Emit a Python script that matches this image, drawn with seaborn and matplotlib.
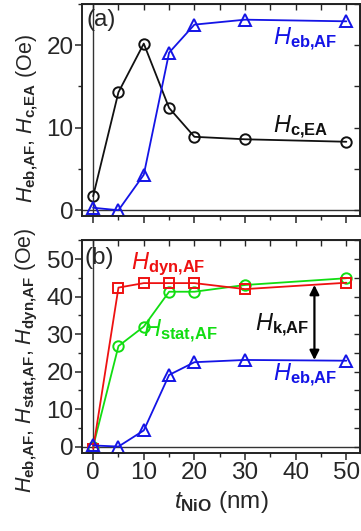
import matplotlib
matplotlib.use("Agg")
import matplotlib.pyplot as plt
from matplotlib.ticker import MultipleLocator
import seaborn as sns
import pandas as pd

# NiO thickness (nm)
t_nio = [0, 5, 10, 15, 20, 30, 50]

# Fields (Oe)
h_eb_af = [0.3, 0.0, 4.3, 19.1, 22.5, 23.1, 22.9]
h_c_ea = [1.7, 14.3, 20.2, 12.4, 8.9, 8.6, 8.3]
h_dyn_af = [-0.6, 42.4, 43.6, 43.6, 43.6, 42.0, 43.7]
h_stat_af = [0.0, 26.8, 32.0, 41.3, 41.3, 43.1, 44.9]

x_ticks = [0, 10, 20, 30, 40, 50]

sns.set_style("ticks")
plt.rcParams["font.family"] = ["Liberation Sans", "DejaVu Sans"]
plt.rcParams["mathtext.fontset"] = "custom"
plt.rcParams["mathtext.rm"] = "Liberation Sans"
plt.rcParams["mathtext.it"] = "Liberation Sans:italic"
plt.rcParams["mathtext.bf"] = "Liberation Sans:bold"

FS = 17.5      # tick labels, panel tags, x label
FS_TXT = 17    # curve labels
FS_Y = 15.5    # y axis labels
BLUE, BLACK, RED, GREEN = "#1414e6", "#111111", "#ee1111", "#11dd11"


def sym(sub):
    """Italic H with a bold upright subscript."""
    return r"$H_{\mathbf{" + sub.replace(",", "{,}") + "}}$"


df = pd.DataFrame({"t": t_nio, "eb": h_eb_af, "c": h_c_ea,
                   "dyn": h_dyn_af, "stat": h_stat_af})

fig = plt.figure(figsize=(3.61, 5.31), dpi=100)
W, H = 361, 531
ax_a = fig.add_axes([82 / W, 1 - 216 / H, 278 / W, 212 / H])
ax_b = fig.add_axes([82 / W, 1 - 453.3 / H, 278 / W, 213.3 / H])


def series(ax, col, color, marker, ms):
    sns.lineplot(data=df, x="t", y=col, ax=ax, color=color, lw=1.3,
                 marker=marker, markersize=ms, markerfacecolor="none",
                 markeredgecolor=color, markeredgewidth=1.4,
                 estimator=None, sort=False, legend=False)


def frame(ax, ylim, ymaj):
    ax.set_xlim(-2.2, 52.7)
    ax.set_ylim(*ylim)
    ax.axvline(0, color="#333333", lw=1.0, zorder=0)
    ax.axhline(0, color="#333333", lw=1.0, zorder=0)
    ax.xaxis.set_major_locator(MultipleLocator(10))
    ax.xaxis.set_minor_locator(MultipleLocator(5))
    ax.yaxis.set_major_locator(MultipleLocator(ymaj))
    ax.yaxis.set_minor_locator(MultipleLocator(ymaj / 2))
    ax.tick_params(which="major", direction="out", length=5, width=1.1,
                   labelsize=FS, pad=1)
    ax.tick_params(which="minor", direction="out", length=3, width=1.0)
    for s in ax.spines.values():
        s.set_linewidth(1.4)
        s.set_color("#222222")
    top = ax.secondary_xaxis("top")
    top.xaxis.set_major_locator(MultipleLocator(5))
    top.tick_params(direction="in", length=4, width=1.0, labeltop=False)
    right = ax.secondary_yaxis("right")
    right.yaxis.set_major_locator(MultipleLocator(ymaj / 2))
    right.tick_params(direction="in", length=4, width=1.0, labelright=False)
    ax.set_xlabel("")
    ax.set_ylabel("")


# (a) exchange bias and coercivity
series(ax_a, "c", BLACK, "o", 7.5)
series(ax_a, "eb", BLUE, "^", 8.5)
frame(ax_a, (-0.7, 25), 10)
ax_a.tick_params(labelbottom=False)
fig.text(27 / W, 1 - 118 / H, sym("eb,AF") + ", " + sym("c,EA") + " (Oe)",
         fontsize=FS_Y, rotation=90, ha="center", va="center")
ax_a.text(0.015, 0.975, "(a)", transform=ax_a.transAxes, fontsize=FS,
          ha="left", va="top")
ax_a.text(41.9, 20.7, sym("eb,AF"), color=BLUE, fontsize=FS_TXT,
          ha="center", va="center")
ax_a.text(40.9, 10.0, sym("c,EA"), color=BLACK, fontsize=FS_TXT,
          ha="center", va="center")

# (b) dynamic, static and exchange-bias fields
series(ax_b, "stat", GREEN, "o", 7.5)
series(ax_b, "dyn", RED, "s", 7)
series(ax_b, "eb", BLUE, "^", 8.5)
frame(ax_b, (-1.8, 55.1), 10)
ax_b.set_xticks(x_ticks)
ax_b.set_xticklabels([str(v) for v in x_ticks])
ax_b.set_xlabel(r"$t_{\mathbf{NiO}}$ (nm)", fontsize=FS, labelpad=4)
fig.text(27 / W, 1 - 360 / H,
         sym("eb,AF") + ", " + sym("stat,AF") + ", " + sym("dyn,AF")
         + " (Oe)", fontsize=FS_Y, rotation=90, ha="center", va="center")
ax_b.text(0.01, 0.965, "(b)", transform=ax_b.transAxes, fontsize=FS,
          ha="left", va="top")
ax_b.text(14.8, 48.5, sym("dyn,AF"), color=RED, fontsize=FS_TXT,
          ha="center", va="center")
ax_b.text(17.2, 30.6, sym("stat,AF"), color=GREEN, fontsize=FS_TXT,
          ha="center", va="center")
ax_b.text(41.9, 19.1, sym("eb,AF"), color=BLUE, fontsize=FS_TXT,
          ha="center", va="center")
ax_b.annotate("", xy=(43.7, 43.1), xytext=(43.7, 23.1),
              arrowprops=dict(arrowstyle="<|-|>", color="black", lw=1.6,
                              mutation_scale=14, shrinkA=0, shrinkB=0))
ax_b.text(42.6, 32.4, sym("k,AF"), color=BLACK, fontsize=FS_TXT,
          ha="right", va="center")

fig.savefig("out.png", dpi=100)
